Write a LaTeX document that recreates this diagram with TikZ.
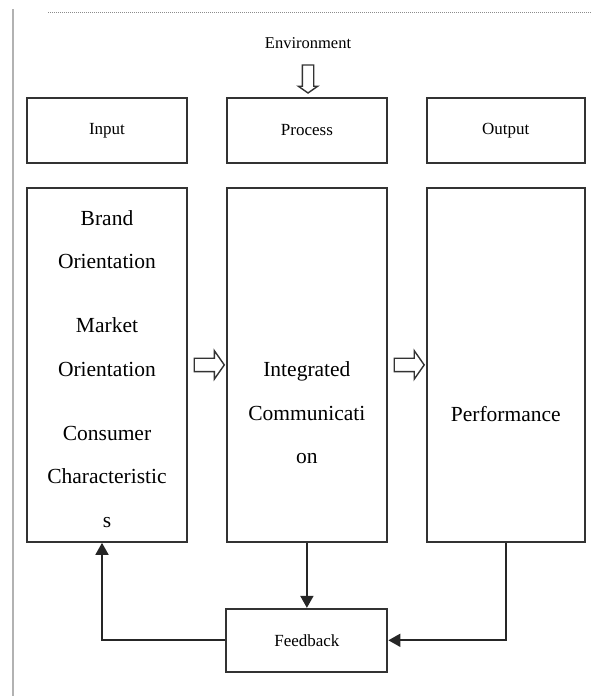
\documentclass[tikz,border=0pt]{standalone}
\usepackage{fontspec}
\setmainfont{Liberation Serif}
\usetikzlibrary{positioning,shapes.arrows,arrows.meta,calc}

\tikzset{
  box/.style={draw=black!80, line width=1.9pt, minimum width=160pt, inner sep=0pt},
  headbox/.style={box, minimum height=65pt, font=\fontsize{17}{20}\selectfont},
  bigbox/.style={box, minimum height=354pt},
  boxtext/.style={font=\fontsize{21.5}{43.5}\selectfont, align=center},
  hollow/.style={single arrow, draw=black!80, line width=1.4pt, fill=white,
    inner sep=0pt, text height=6pt, text depth=6pt, single arrow head extend=7.5pt,
    minimum height=30pt, single arrow tip angle=110},
  link/.style={draw=black!85, line width=1.8pt, -{Triangle[length=12pt,width=13pt]}}
}

\begin{document}
\begin{tikzpicture}[x=1pt, y=-1pt]
\useasboundingbox (0,0) rectangle (592,696);

% page edge and top rule
\draw[black!30, line width=2pt] (12.5,9) -- (12.5,696);
\draw[black!45, densely dotted, line width=1pt] (48,12) -- (592,12);

% top row
\node[headbox] (inp) at (107,130.5) {Input};
\node[headbox, right=38pt of inp] (proc) {Process};
\node[headbox, right=38pt of proc, minimum width=158pt] (outp) {Output};

% main boxes
\node[bigbox, below=23pt of inp] (inbig) {};
\node[bigbox, below=23pt of proc] (midbig) {};
\node[bigbox, below=23pt of outp, minimum width=158pt] (outbig) {};

\node[boxtext] (intext) at ([yshift=-4pt]inbig.center)
  {Brand\\Orientation\\[20.5pt]Market\\Orientation\\[20.5pt]Consumer\\Characteristic\\s};
\node[boxtext] (midtext) at ([yshift=-48pt]midbig.center)
  {Integrated\\Communicati\\on};
\node[boxtext] (outtext) at ([yshift=-49pt]outbig.center) {Performance};

% environment
\node[font=\fontsize{16.5}{20}\selectfont] (env) at (308,43) {Environment};
\node[hollow, shape border rotate=270, minimum height=28pt, text width=10pt,
  text height=0pt, text depth=0pt, single arrow head extend=4pt] (envarrow) at (308,77) {};

% flow arrows
\node[hollow] (arr1) at ($(inbig.east)!0.5!(midbig.west)$) {};
\node[hollow] (arr2) at ($(midbig.east)!0.5!(outbig.west)$) {};

% feedback loop
\node[box, minimum width=161pt, minimum height=63pt, below=65pt of midbig,
  font=\fontsize{17}{20}\selectfont] (fb) {Feedback};
\draw[link] (midbig.south) -- (fb.north);
\draw[link] (outbig.south) |- (fb.east);
\draw[link] (fb.west) -| ([xshift=-5pt]inbig.south);
\end{tikzpicture}
\end{document}
